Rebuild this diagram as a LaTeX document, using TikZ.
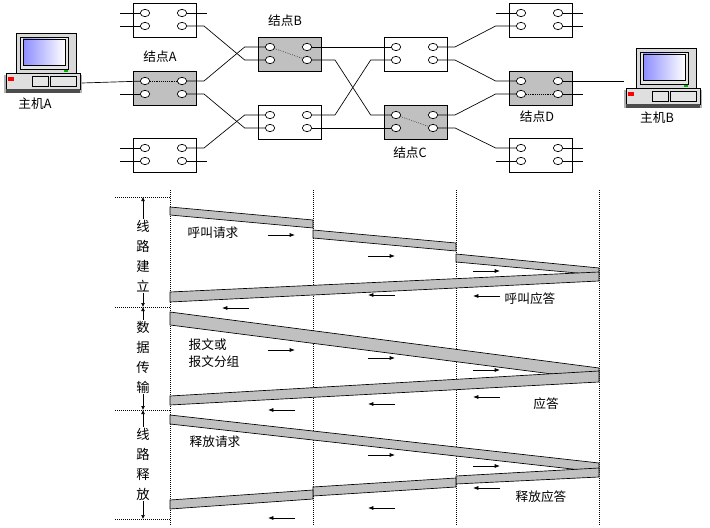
\documentclass[tikz,border=0pt]{standalone}
\usepackage{fontspec}
\setmainfont{Noto Sans CJK SC}
\usetikzlibrary{arrows.meta,shapes.geometric}
\definecolor{sg}{RGB}{192,192,192}
\begin{document}
\begin{tikzpicture}[x=0.75pt,y=-0.75pt,
 port/.style={draw,fill=white,ellipse,inner sep=0pt,minimum width=7pt,minimum height=5.5pt,line width=0.5pt},
 wire/.style={line width=0.5pt},
 band/.style={draw,fill=sg,line width=0.5pt},
 lbl/.style={font=\fontsize{9.5}{10}\selectfont,inner sep=0pt},
 vlbl/.style={font=\fontsize{10}{15}\selectfont,align=center,fill=white,inner sep=1pt},
 arr/.style={-{Latex[length=4pt,width=3pt]},line width=0.5pt},
 vline/.style={densely dotted,line width=0.5pt}]
\useasboundingbox (0,0) rectangle (710,528);
\newcommand{\sw}[4]{%
 \begin{scope}[shift={(#2,#3)}]
 \draw[line width=0.6pt,fill=#4] (0,0) rectangle (63,34);
 \node[port] (#1a) at (12,10) {};
 \node[port] (#1b) at (12,23) {};
 \node[port] (#1c) at (49,10) {};
 \node[port] (#1d) at (49,23) {};
 \end{scope}}
\newcommand{\pc}[3]{%
 \begin{scope}[shift={(#2,#3)}]
 \fill[gray!60] (0,42) rectangle (78,60);
 \draw[fill=gray!25] (2,40) rectangle (76,56);
 \fill[black!70] (2,56) rectangle (76,60);
 \fill[red] (4,44) rectangle (10,48);
 \draw[fill=gray!20] (28,43) rectangle (44,53);
 \draw[fill=gray!20] (46,43) rectangle (72,53);
 \draw[fill=gray!30] (12,0) rectangle (72,40);
 \draw[fill=gray!20] (16,4) rectangle (64,36);
 \shade[left color=blue!45!white,right color=white,draw] (19,6) rectangle (61,32);
 \fill[green!70!black] (60,37) rectangle (64,39);
 \coordinate (#1) at (78,50);
 \coordinate (#1L) at (0,46);
 \end{scope}}
% ---------- network ----------
\sw{L1}{133}{3}{white}
\sw{A}{133}{71}{sg}
\sw{L3}{133}{138}{white}
\sw{B}{258}{37}{sg}
\sw{M2}{258}{105}{white}
\sw{T1}{384}{37}{white}
\sw{C}{384}{105}{sg}
\sw{R1}{509}{3}{white}
\sw{D}{509}{71}{sg}
\sw{R3}{509}{138}{white}
\draw[densely dotted] (Aa) -- (Ac);
\draw[densely dotted] (Ba) -- (Bd);
\draw[densely dotted] (Ca) -- (Cd);
\draw[densely dotted] (Db) -- (Dd);
\pc{hA}{4}{33}
\pc{hB}{624}{48}
\node[lbl] at (35,104) {主机A};
\node[lbl] at (657,118) {主机B};
\node[lbl] at (160,57) {结点A};
\node[lbl] at (285,21) {结点B};
\node[lbl] at (410,153) {结点C};
\node[lbl] at (537,117) {结点D};
% stubs
\foreach \n/\p in {L1/a,L1/b,L3/a,L3/b,A/b,R1/a,R3/b}{
 \coordinate (s\n\p) at ([xshift=-18.75pt]\n\p.center);
 \draw[wire] (s\n\p) -- (\n\p);}
\foreach \n/\p in {L1/c,L3/d,R1/c,R1/d,R3/c,R3/d,D/d}{
 \coordinate (s\n\p) at ([xshift=18.75pt]\n\p.center);
 \draw[wire] (\n\p) -- (s\n\p);}
\draw[wire] (hA) -- (Aa);
\draw[wire] (Dc) -- (hBL|-Dc);
% crossings
\draw[wire] (L1d) -- ++(22,0) -- ([xshift=-19pt]Bb.center) -- (Bb);
\draw[wire] (Ac) -- ++(22,0) -- ([xshift=-19pt]Ba.center) -- (Ba);
\draw[wire] (Ad) -- ++(22,0) -- ([xshift=-19pt]M2b.center) -- (M2b);
\draw[wire] (L3c) -- ++(22,0) -- ([xshift=-19pt]M2a.center) -- (M2a);
\draw[wire] (Bc) -- (T1a);
\draw[wire] (Bd) -- ++(28,0) -- ([xshift=-19pt]Ca.center) -- (Ca);
\draw[wire] (M2c) -- ++(28,0) -- ([xshift=-19pt]T1b.center) -- (T1b);
\draw[wire] (M2d) -- (Cb);
\draw[wire] (T1c) -- ++(22,0) -- ([xshift=-19pt]R1b.center) -- (R1b);
\draw[wire] (T1d) -- ++(22,0) -- ([xshift=-19pt]Da.center) -- (Da);
\draw[wire] (Cc) -- ++(22,0) -- ([xshift=-19pt]Db.center) -- (Db);
\draw[wire] (Cd) -- ++(22,0) -- ([xshift=-19pt]R3a.center) -- (R3a);
% ---------- timing ----------
\foreach \x in {170,313,456,599} \draw[vline] (\x,190) -- (\x,525);
\foreach \y in {197,307,410,519} \draw[vline] (115,\y) -- (170,\y);
\foreach \a/\b in {197/307,307/410,410/519}
 \draw[-{Latex[length=3pt,width=3pt]},line width=0.5pt] (143,{(\a+\b)/2}) -- (143,\a);
\foreach \a/\b in {197/307,307/410,410/519}
 \draw[-{Latex[length=3pt,width=3pt]},line width=0.5pt] (143,{(\a+\b)/2}) -- (143,\b);
\node[vlbl] at (143,256) {线\\路\\建\\立};
\node[vlbl] at (143,357) {数\\据\\传\\输};
\node[vlbl] at (143,464) {线\\路\\释\\放};
% bands: call setup
\draw[band] (170,207) -- (313,220) -- (313,228) -- (170,215) -- cycle;
\draw[band] (313,230) -- (456,243) -- (456,251) -- (313,238) -- cycle;
\draw[band] (456,254) -- (599,268) -- (599,275) -- (456,262) -- cycle;
\draw[band] (599,272) -- (170,292) -- (170,302) -- (599,281) -- cycle;
% data
\draw[band] (170,312) -- (599,368) -- (599,380) -- (170,325) -- cycle;
\draw[band] (599,371) -- (170,396) -- (170,405) -- (599,382) -- cycle;
% release
\draw[band] (170,415) -- (599,463) -- (599,472) -- (170,424) -- cycle;
\draw[band] (599,468) -- (456,476) -- (456,484) -- (599,477) -- cycle;
\draw[band] (456,478) -- (313,487) -- (313,496) -- (456,487) -- cycle;
\draw[band] (313,490) -- (170,500) -- (170,509) -- (313,499) -- cycle;
% small arrows
\foreach \x/\y in {268/235,368/256,473/271,268/350,368/358,473/370,368/455,473/466}
 \draw[arr] (\x,\y) -- +(27,0);
\foreach \x/\y in {222/308,368/295,473/296,268/410,368/404,473/397,268/518,368/508,473/488}
 \draw[arr] (\x+27,\y) -- (\x,\y);
% texts
\node[lbl] at (213,233) {呼叫请求};
\node[lbl] at (530,299) {呼叫应答};
\node[lbl,align=left] at (214,353) {报文或\\[3pt]报文分组};
\node[lbl] at (546,404) {应答};
\node[lbl] at (215,442) {释放请求};
\node[lbl] at (541,497) {释放应答};
\end{tikzpicture}
\end{document}
